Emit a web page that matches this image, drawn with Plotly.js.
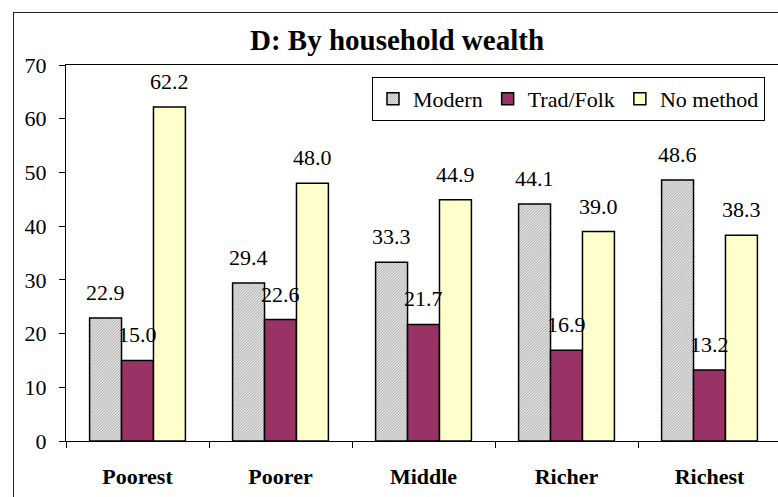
<!DOCTYPE html>
<html>
<head>
<meta charset="utf-8">
<script src="https://cdn.plot.ly/plotly-3.0.1.min.js"></script>
<style>
html,body{margin:0;padding:0;overflow:hidden;background:#fff;width:778px;height:497px;}
#chart{position:absolute;left:0;top:0;}
#frame{position:absolute;left:13px;top:12px;width:800px;height:520px;border:1px solid #222;pointer-events:none;}
</style>
</head>
<body>
<div id="chart"></div>
<div id="frame"></div>
<script>
const categories = ["Poorest", "Poorer", "Middle", "Richer", "Richest"];
const modern = [22.9, 29.4, 33.3, 44.1, 48.6];
const tradFolk = [15.0, 22.6, 21.7, 16.9, 13.2];
const noMethod = [62.2, 48.0, 44.9, 39.0, 38.3];
const seriesNames = ["Modern", "Trad/Folk", "No method"];
const yTicks = [0, 10, 20, 30, 40, 50, 60, 70];

const W = 790, H = 497;
const margin = {l: 66, r: 9, t: 65, b: 56};
const bargap = 0.33;
const fontFam = 'Liberation Serif, Times New Roman, serif';
const lineCol = '#000';
const fs = 22;

const series = [modern, tradFolk, noMethod];
const markers = [
  {color: '#d8d8d8', line: {color: lineCol, width: 1.5},
   pattern: {shape: '/', fgcolor: '#999999', bgcolor: '#e4e4e4', size: 2, solidity: 0.4}},
  {color: '#993366', line: {color: lineCol, width: 1.5}},
  {color: '#FFFFCC', line: {color: lineCol, width: 1.5}}
];

const traces = series.map((vals, j) => ({
  type: 'bar',
  name: seriesNames[j],
  x: categories,
  y: vals,
  marker: markers[j],
  hoverinfo: 'skip'
}));

const plotW = W - margin.l - margin.r;
const catW = plotW / categories.length;
const barW = catW * (1 - bargap) / series.length;
const annotations = [];
series.forEach((vals, j) => {
  vals.forEach((v, i) => {
    annotations.push({
      x: categories[i], y: v, xref: 'x', yref: 'y',
      text: v.toFixed(1), showarrow: false,
      xshift: (j - (series.length - 1) / 2) * barW,
      yanchor: 'bottom', yshift: 11,
      font: {family: fontFam, size: fs, color: '#000'}
    });
  });
});

const layout = {
  width: W, height: H,
  margin: margin,
  paper_bgcolor: 'rgba(0,0,0,0)',
  plot_bgcolor: '#fff',
  barmode: 'group',
  bargap: bargap,
  bargroupgap: 0,
  title: {text: '<b>D: By household wealth</b>', x: 397 / W, xanchor: 'center', y: 1 - 40 / H, yanchor: 'middle',
          font: {family: fontFam, size: 29, color: '#000'}},
  font: {family: fontFam, size: fs, color: '#000'},
  xaxis: {
    type: 'category',
    showline: true, linecolor: lineCol, linewidth: 1, mirror: true,
    ticks: 'outside', tickson: 'boundaries', ticklen: 6, tickcolor: lineCol,
    tickfont: {family: fontFam, size: fs, color: '#000'},
    ticktext: categories.map(c => '<b>' + c + '</b>'),
    tickvals: categories,
    tickmode: 'array',
    ticklabelstandoff: 16,
    showgrid: false, zeroline: false
  },
  yaxis: {
    range: [0, 70],
    tickvals: yTicks, tickmode: 'array',
    showline: true, linecolor: lineCol, linewidth: 1, mirror: true,
    ticks: 'outside', ticklen: 6, tickcolor: lineCol,
    tickfont: {family: fontFam, size: fs, color: '#000'},
    ticklabelstandoff: 8,
    showgrid: false, zeroline: false
  },
  showlegend: true,
  legend: {
    orientation: 'h',
    x: (765 - margin.l) / plotW, xanchor: 'right',
    y: (441 - 77) / (H - margin.t - margin.b), yanchor: 'top',
    bgcolor: '#fff', bordercolor: '#000', borderwidth: 1,
    font: {family: fontFam, size: fs, color: '#000'},
    itemwidth: 30, traceorder: 'normal'
  },
  annotations: annotations
};

Plotly.newPlot('chart', traces, layout, {displayModeBar: false, staticPlot: true});
</script>
</body>
</html>
